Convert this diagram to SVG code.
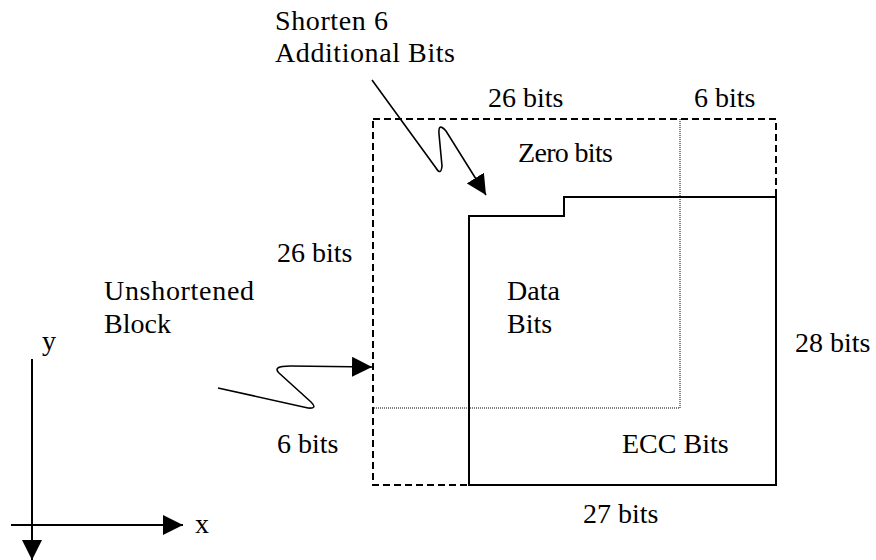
<svg xmlns="http://www.w3.org/2000/svg" width="876" height="560" viewBox="0 0 876 560">
<style>
text{font-family:"Liberation Serif","Times New Roman",serif;font-size:28px;fill:#000}
.dash{fill:none;stroke:#000;stroke-width:2;stroke-dasharray:7 4}
.dot{fill:none;stroke:#000;stroke-width:1;stroke-dasharray:1 1}
.solid{fill:none;stroke:#000;stroke-width:2}
.conn{fill:none;stroke:#000;stroke-width:1.6}
.axis{fill:none;stroke:#000;stroke-width:2}
</style>
<defs>
<marker id="ah" viewBox="0 0 10 10" refX="10" refY="5" markerWidth="20" markerHeight="20" markerUnits="userSpaceOnUse" orient="auto">
<path d="M0,0 L10,5 L0,10 Z" fill="#000"/>
</marker>
</defs>
<rect width="876" height="560" fill="#fff"/>
<g id="unshortened-block">
<rect class="dash" x="373" y="119" width="403" height="366"/>
<polyline class="dot" points="680,119 680,408 373,408"/>
</g>
<g id="data-block">
<polygon class="solid" points="469,485 469,216 564,216 564,197 776,197 776,485"/>
</g>
<g id="labels">
<text x="275" y="30" textLength="113">Shorten 6</text>
<text x="275" y="62" textLength="180">Additional Bits</text>
<text x="488" y="107">26 bits</text>
<text x="694" y="107">6 bits</text>
<text x="518" y="162" textLength="95">Zero bits</text>
<text x="277" y="262">26 bits</text>
<text x="104" y="300" textLength="150">Unshortened</text>
<text x="104" y="333">Block</text>
<text x="507" y="300">Data</text>
<text x="507" y="333">Bits</text>
<text x="795" y="352">28 bits</text>
<text x="42" y="350">y</text>
<text x="277" y="453">6 bits</text>
<text x="622" y="453">ECC Bits</text>
<text x="583" y="523">27 bits</text>
<text x="195" y="533">x</text>
</g>
<g id="connectors">
<path class="conn" d="M372,80 L436,168 Q441,176 442,166 L439,134 Q438,122 446,131 L486,195" marker-end="url(#ah)"/>
<path class="conn" d="M218,388 L308,408 Q318,409 311,402 L279,373 Q272,366 290,366 L372,367" marker-end="url(#ah)"/>
<line class="axis" x1="32" y1="359" x2="32" y2="560" marker-end="url(#ah)"/>
<line class="axis" x1="11" y1="525" x2="183" y2="525" marker-end="url(#ah)"/>
</g>
</svg>
